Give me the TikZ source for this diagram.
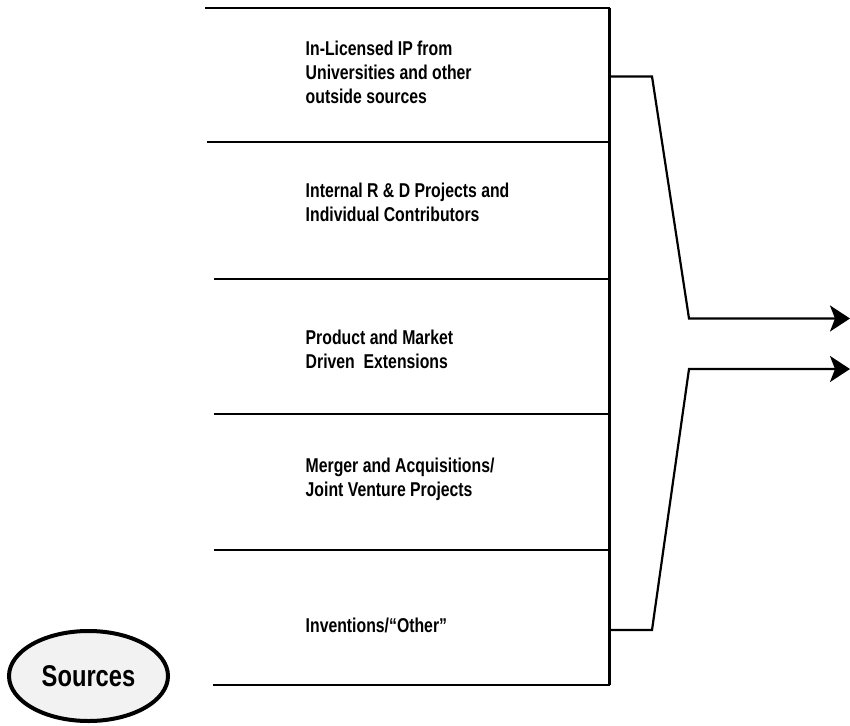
\documentclass[tikz,border=0pt]{standalone}
\usepackage{fontspec}
\newfontfamily\labfont[FakeStretch=0.79]{Liberation Sans Bold}
\usetikzlibrary{arrows.meta,shapes.geometric}

\definecolor{ovalfill}{HTML}{F2F2F2}

\tikzset{
  rowline/.style={line width=2.8pt},
  spine/.style={line width=3pt},
  bracket/.style={line width=2.2pt, line join=miter,
    -{Stealth[length=20pt, width=26pt, inset=5pt]}},
  rowtext/.style={anchor=base west, inner sep=0pt, font=\labfont\fontsize{20}{24}\selectfont},
  oval/.style={ellipse, draw, line width=4pt, fill=ovalfill, inner sep=0pt,
    minimum width=159pt, minimum height=90pt,
    font=\labfont\fontsize{30}{34}\selectfont}
}

\begin{document}
\begin{tikzpicture}[x=1pt, y=-1pt]
  \useasboundingbox (0,0) rectangle (850,725);

  % row separators and the spine they meet
  \coordinate (l0) at (205,8);   \coordinate (r0) at (609.5,8);
  \coordinate (l1) at (207,142); \coordinate (r1) at (609.5,142);
  \coordinate (l2) at (214,279); \coordinate (r2) at (609.5,279);
  \coordinate (l3) at (214,414); \coordinate (r3) at (609.5,414);
  \coordinate (l4) at (214,550); \coordinate (r4) at (609.5,550);
  \coordinate (l5) at (213,685); \coordinate (r5) at (609.5,685);

  \foreach \i in {0,...,5} { \draw[rowline] (l\i) -- (r\i); }
  \draw[spine] (r0) -- (r5);

  % row labels
  \node[rowtext] (t1a) at (305.5,55.5)  {In-Licensed IP from};
  \node[rowtext] (t1b) at (305.5,79.5)  {Universities and other};
  \node[rowtext] (t1c) at (305.5,103.5) {outside sources};

  \node[rowtext] (t2a) at (305.5,197) {Internal R \& D Projects and};
  \node[rowtext] (t2b) at (305.5,221) {Individual Contributors};

  \node[rowtext] (t3a) at (305.5,344) {Product and Market};
  \node[rowtext] (t3b) at (305.5,368) {Driven\ \ Extensions};

  \node[rowtext] (t4a) at (305.5,472) {Merger and Acquisitions/};
  \node[rowtext] (t4b) at (305.5,496) {Joint Venture Projects};

  \node[rowtext] (t5a) at (305.5,632) {Inventions/“Other”};

  % the gathering bracket and its two outputs
  \coordinate (ua) at (609.5,76.5);
  \coordinate (ub) at (652,76.5);
  \coordinate (uc) at (689,318.5);
  \coordinate (uout) at (850,318.5);

  \coordinate (la) at (609.5,630);
  \coordinate (lb) at (652,630);
  \coordinate (lc) at (689,369);
  \coordinate (lout) at (850,369);

  \draw[bracket] (ua) -- (ub) -- (uc) -- (uout);
  \draw[bracket] (la) -- (lb) -- (lc) -- (lout);

  % title oval
  \node[oval] (sources) at (88.5,676) {Sources};
\end{tikzpicture}
\end{document}
